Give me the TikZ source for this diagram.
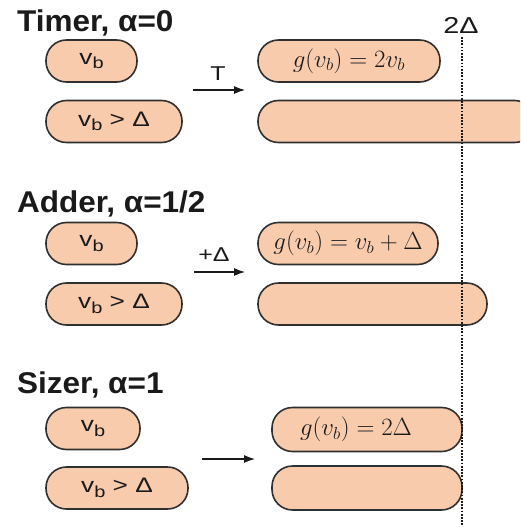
\documentclass[tikz,border=0pt]{standalone}
\usepackage{fontspec}
\setmainfont{Liberation Sans}
\newfontfamily\widesans[FakeStretch=1.25]{Liberation Sans}
\newfontfamily\titlesans[FakeStretch=1.05]{Liberation Sans}
\usetikzlibrary{arrows.meta}
\definecolor{peach}{HTML}{F8CBAD}
\definecolor{edgegray}{HTML}{303030}
\definecolor{ink}{HTML}{1A1A1A}
\newcommand\vbtext{v\raisebox{-0.4ex}{\fontsize{16}{16}\selectfont b}}
\begin{document}
\begin{tikzpicture}[x=1pt,y=-1pt,
 pill/.style={draw=edgegray, fill=peach, line width=1.6pt, rounded corners=20.5pt, minimum height=42pt, inner sep=0pt, text=ink, font=\widesans\fontsize{21}{21}\selectfont},
 titletext/.style={anchor=base west, inner sep=0pt, font=\titlesans\bfseries\fontsize{30}{30}\selectfont, text=ink},
 arr/.style={-{Latex[length=11pt,width=8pt]}, line width=1.2pt, draw=ink},
 alabel/.style={font=\widesans\fontsize{20}{20}\selectfont, text=ink, inner sep=0pt},
 mtext/.style={font=\fontsize{26}{26}\selectfont, text=ink, inner sep=0pt},
 dotline/.style={draw=ink, line width=2.4pt, dash pattern=on 1.7pt off 1.5pt}]
\clip (0,0) rectangle (520,527);
\fill[white] (0,0) rectangle (520,527);

% Timer
\node[titletext] (t1) at (17,32) {Timer, α=0};
\node[pill, minimum width=91pt] (vb1) at (91.5,61) {\vbtext};
\node[pill, minimum width=136pt] (vg1) at (114,121.5) {\vbtext{} > Δ};
\coordinate (a1s) at (193,90); \coordinate (a1e) at (245,90);
\draw[arr] (a1s) -- (a1e);
\node[alabel] (l1) at (218,74) {T};
\node[pill, mtext, minimum width=182pt, minimum height=42pt] (g1) at (349,61) {$g(v_b) = 2v_b$};
\node[pill, minimum width=277pt] (long1) at (396.5,121.5) {};

% Adder
\node[titletext] (t2) at (17,212) {Adder, α=1/2};
\node[pill, minimum width=91pt] (vb2) at (91.5,243.5) {\vbtext};
\node[pill, minimum width=136pt] (vg2) at (114,304) {\vbtext{} > Δ};
\coordinate (a2s) at (194,272); \coordinate (a2e) at (245,272);
\draw[arr] (a2s) -- (a2e);
\node[alabel] (l2) at (214,255) {+Δ};
\node[pill, mtext, minimum width=180pt, minimum height=42pt] (g2) at (348,243.5) {$g(v_b) = v_b + \Delta$};
\node[pill, minimum width=229pt] (long2) at (372.5,304) {};

% Sizer
\node[titletext] (t3) at (17,393) {Sizer, α=1};
\node[pill, minimum width=94pt] (vb3) at (93,428.5) {\vbtext};
\node[pill, minimum width=142pt] (vg3) at (117,488) {\vbtext{} > Δ};
\coordinate (a3s) at (202,459); \coordinate (a3e) at (255,459);
\draw[arr] (a3s) -- (a3e);
\node[pill, minimum width=190pt, minimum height=44pt] (g3) at (367,429.5) {};
\node[mtext] (g3t) at (356,429.5) {$g(v_b) = 2\Delta$};
\node[pill, minimum width=190pt, minimum height=44pt] (long3) at (367,488) {};

% 2 Delta marker
\node[font=\widesans\fontsize{23}{23}\selectfont, text=ink, inner sep=0pt] (twod) at (461,25) {2Δ};
\coordinate (dtop) at (462,37); \coordinate (dbot) at (462,527);
\draw[dotline] (dtop) -- (dbot);
\end{tikzpicture}
\end{document}
